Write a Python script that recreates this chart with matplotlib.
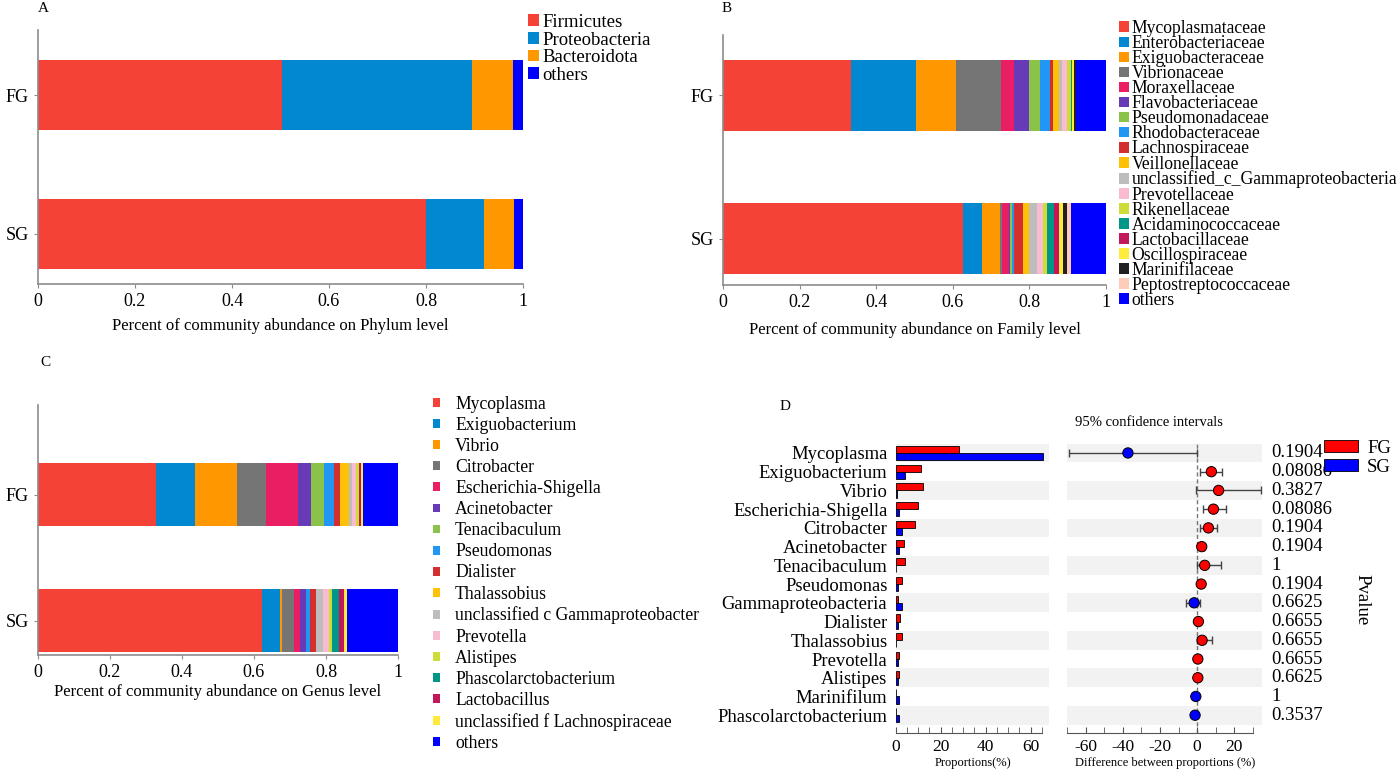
import numpy as np
import matplotlib
matplotlib.use("Agg")
import matplotlib.pyplot as plt
from matplotlib.patches import Patch

plt.rcParams['font.family'] = ['Liberation Serif', 'DejaVu Serif']
plt.rcParams['axes.unicode_minus'] = False

W, H = 1400, 773

# ---- panel A: phylum level ----
phylum = ["Firmicutes", "Proteobacteria", "Bacteroidota", "others"]
phylum_fg = [0.503, 0.392, 0.084, 0.021]
phylum_sg = [0.800, 0.120, 0.061, 0.019]
phylum_colors = ["#F44336", "#0288D1", "#FF9800", "#0000FF"]

# ---- panel B: family level ----
family = ["Mycoplasmataceae", "Enterobacteriaceae", "Exiguobacteraceae", "Vibrionaceae",
          "Moraxellaceae", "Flavobacteriaceae", "Pseudomonadaceae", "Rhodobacteraceae",
          "Lachnospiraceae", "Veillonellaceae", "unclassified_c_Gammaproteobacteria",
          "Prevotellaceae", "Rikenellaceae", "Acidaminococcaceae", "Lactobacillaceae",
          "Oscillospiraceae", "Marinifilaceae", "Peptostreptococcaceae", "others"]
family_fg = [0.333, 0.170, 0.106, 0.117, 0.035, 0.039, 0.027, 0.027, 0.008, 0.016,
             0.008, 0.012, 0.010, 0.002, 0.002, 0.004, 0.005, 0.001, 0.078]
family_sg = [0.626, 0.050, 0.047, 0.005, 0.018, 0.003, 0.006, 0.004, 0.025, 0.016,
             0.020, 0.015, 0.011, 0.017, 0.013, 0.011, 0.010, 0.012, 0.091]
family_colors = ["#F44336", "#0288D1", "#FF9800", "#757575", "#E91E63", "#673AB7",
                 "#8BC34A", "#2196F3", "#D32F2F", "#FFC107", "#BDBDBD", "#F8BBD0",
                 "#CDDC39", "#009688", "#C2185B", "#FFEB3B", "#212121", "#FFCCBC", "#0000FF"]

# ---- panel C: genus level ----
genus = ["Mycoplasma", "Exiguobacterium", "Vibrio", "Citrobacter", "Escherichia-Shigella",
         "Acinetobacter", "Tenacibaculum", "Pseudomonas", "Dialister", "Thalassobius",
         "unclassified c Gammaproteobacter", "Prevotella", "Alistipes",
         "Phascolarctobacterium", "Lactobacillus", "unclassified f Lachnospiraceae", "others"]
genus_fg = [0.328, 0.107, 0.118, 0.080, 0.090, 0.034, 0.038, 0.026, 0.017, 0.026,
            0.007, 0.011, 0.009, 0.001, 0.005, 0.005, 0.098]
genus_sg = [0.623, 0.048, 0.007, 0.034, 0.015, 0.017, 0.001, 0.010, 0.016, 0.001,
            0.020, 0.015, 0.011, 0.018, 0.013, 0.009, 0.142]
genus_colors = ["#F44336", "#0288D1", "#FF9800", "#757575", "#E91E63", "#673AB7",
                "#8BC34A", "#2196F3", "#D32F2F", "#FFC107", "#BDBDBD", "#F8BBD0",
                "#CDDC39", "#009688", "#C2185B", "#FFEB3B", "#0000FF"]

# ---- panel D: differential genera ----
d_genus = ["Mycoplasma", "Exiguobacterium", "Vibrio", "Escherichia-Shigella", "Citrobacter",
           "Acinetobacter", "Tenacibaculum", "Pseudomonas", "Gammaproteobacteria", "Dialister",
           "Thalassobius", "Prevotella", "Alistipes", "Marinifilum", "Phascolarctobacterium"]
d_fg = [28.1, 11.1, 12.0, 9.9, 8.4, 3.6, 4.0, 2.8, 0.9, 1.8, 2.7, 1.3, 1.3, 0.1, 0.1]
d_sg = [65.5, 4.0, 0.7, 1.5, 2.7, 1.5, 0.1, 0.9, 2.7, 1.2, 0.1, 1.2, 1.2, 1.3, 1.6]
d_diff = [-37.3, 7.7, 11.6, 8.8, 6.1, 2.5, 4.1, 2.2, -1.6, 0.7, 2.7, 0.4, 0.4, -0.7, -1.1]
d_ci_low = [-69.0, 1.6, -0.5, 3.4, 1.6, 1.5, 0.2, 1.2, -5.9, -0.4, -0.2, -0.2, -0.3, -1.4, -1.8]
d_ci_high = [0.0, 13.4, 34.6, 15.6, 10.9, 3.5, 12.7, 3.2, 1.3, 1.8, 7.9, 1.0, 1.1, 0.0, -0.4]
d_pvalue = ["0.1904", "0.08086", "0.3827", "0.08086", "0.1904", "0.1904", "1", "0.1904",
            "0.6625", "0.6655", "0.6655", "0.6655", "0.6625", "1", "0.3537"]
groups = ["FG", "SG"]
group_colors = ["#FF0000", "#0000FF"]


def rect(l, t, r, b):
    # pixel box -> figure fraction
    return [l / W, 1 - b / H, (r - l) / W, (b - t) / H]


def stacked(ax, names, fg, sg, colors, ylim, xlabel):
    left = np.zeros(2)
    for name, a, b, c in zip(names, fg, sg, colors):
        vals = np.array([b, a])
        ax.barh([0, 1], vals, left=left, height=0.5, color=c, label=name, linewidth=0)
        left += vals
    ax.set_xlim(0, 1)
    ax.set_ylim(*ylim)
    ax.set_yticks([0, 1], ["SG", "FG"], fontsize=13)
    ax.set_xticks([0, 0.2, 0.4, 0.6, 0.8, 1], ["0", "0.2", "0.4", "0.6", "0.8", "1"], fontsize=13)
    for s in ["top", "right"]:
        ax.spines[s].set_visible(False)
    for s in ["left", "bottom"]:
        ax.spines[s].set_color("#8c8c8c")
        ax.spines[s].set_linewidth(1.2)
    ax.tick_params(colors="#8c8c8c", labelcolor="black", length=3)
    ax.set_xlabel(xlabel, fontsize=12, labelpad=8)


fig = plt.figure(figsize=(14, 7.73), dpi=100)

# A
axA = fig.add_axes(rect(38, 30, 523, 284))
stacked(axA, phylum, phylum_fg, phylum_sg, phylum_colors, (-0.36, 1.468),
        "Percent of community abundance on Phylum level")
axA.xaxis.labelpad = 6
axA.legend(loc="upper left", bbox_to_anchor=(528 / W, 1 - 14 / H), bbox_transform=fig.transFigure,
           frameon=False, fontsize=13.5, handlelength=0.6, handleheight=0.6, handletextpad=0.15,
           labelspacing=0.03, borderpad=0, borderaxespad=0)
fig.text(38 / W, 1 - 8 / H, "A", fontsize=11, va="center")

# B
axB = fig.add_axes(rect(723, 35, 1106, 285))
stacked(axB, family, family_fg, family_sg, family_colors, (-0.325, 1.423),
        "Percent of community abundance on Family level")
axB.legend(loc="upper left", bbox_to_anchor=(1119 / W, 1 - 20 / H), bbox_transform=fig.transFigure,
           frameon=False, fontsize=12.7, handlelength=0.55, handleheight=0.55, handletextpad=0.15,
           labelspacing=-0.11, borderpad=0, borderaxespad=0)
fig.text(722 / W, 1 - 8 / H, "B", fontsize=11, va="center")

# C
axC = fig.add_axes(rect(38, 405, 398, 655))
stacked(axC, genus, genus_fg, genus_sg, genus_colors, (-0.27, 1.714),
        "Percent of community abundance on Genus level")
axC.xaxis.labelpad = 2
axC.legend(loc="upper left", bbox_to_anchor=(433 / W, 1 - 396 / H), bbox_transform=fig.transFigure,
           frameon=False, fontsize=12.7, handlelength=0.4, handleheight=0.4, handletextpad=0.85,
           labelspacing=0.23, borderpad=0, borderaxespad=0)
fig.text(40 / W, 1 - 362 / H, "C", fontsize=11, va="center")

# D - proportions
y = np.arange(len(d_genus))
axL = fig.add_axes(rect(895.7, 443.6, 1049.3, 733))
axR = fig.add_axes(rect(1067.3, 443.6, 1262, 733))
for ax in (axL, axR):
    for i in range(0, len(d_genus), 2):
        ax.axhspan(i - 0.5, i + 0.5, color="#F2F2F2", lw=0, zorder=0)
    ax.set_ylim(14.95, -0.5)
    for s in ["top", "right", "left"]:
        ax.spines[s].set_visible(False)
    ax.spines["bottom"].set_color("#555555")
    ax.tick_params(axis="x", which="both", direction="in", length=4, colors="#555555",
                   labelcolor="black", labelsize=12.5, pad=4)
    ax.tick_params(axis="y", length=0)

axL.barh(y - 0.19, d_fg, height=0.38, color=group_colors[0], edgecolor="black", lw=0.6, zorder=2)
axL.barh(y + 0.19, d_sg, height=0.38, color=group_colors[1], edgecolor="black", lw=0.6, zorder=2)
axL.set_xlim(0, 68.3)
axL.spines["bottom"].set_bounds(0, 65)
axL.set_xticks([0, 20, 40, 60])
axL.set_xticks(np.arange(0, 66, 5), minor=True)
axL.set_yticks(y, d_genus, fontsize=13.4)
axL.tick_params(axis="y", pad=6)
axL.set_xlabel("Proportions(%)", fontsize=9, labelpad=2)

# D - differences with CI
axR.axvline(0, color="#777777", ls=(0, (3, 2)), lw=1, zorder=1)
pt_colors = [group_colors[0] if d > 0 else group_colors[1] for d in d_diff]
xerr = [np.array(d_diff) - np.array(d_ci_low), np.array(d_ci_high) - np.array(d_diff)]
axR.errorbar(d_diff, y, xerr=xerr, fmt="none", ecolor="#444444", elinewidth=1, capsize=3,
             capthick=1, zorder=2)
axR.scatter(d_diff, y, s=55, c=pt_colors, edgecolors="black", linewidths=0.7, zorder=3)
axR.set_xlim(-70, 35)
axR.spines["bottom"].set_bounds(-70, 30)
axR.set_xticks([-60, -40, -20, 0, 20])
axR.set_xticks(np.arange(-70, 31, 10), minor=True)
axR.set_yticks([])
axR.set_xlabel("Difference between proportions (%)", fontsize=9, labelpad=2)
for i, p in zip(y, d_pvalue):
    axR.text(1.05, i, p, transform=axR.get_yaxis_transform(), fontsize=13.5, va="center")
fig.text(1075 / W, 1 - 423 / H, "95% confidence intervals", fontsize=10.5, va="center")

fig.text(1362 / W, 1 - 600 / H, "Pvalue", fontsize=13.5, rotation=270, ha="center", va="center")
fig.legend([Patch(facecolor=c, edgecolor="black", lw=0.6) for c in group_colors], groups,
           loc="upper left", bbox_to_anchor=(1324 / W, 1 - 440 / H), frameon=False, fontsize=13.5,
           handlelength=1.8, handleheight=0.6, handletextpad=0.5, labelspacing=0.1,
           borderpad=0, borderaxespad=0)
fig.text(780 / W, 1 - 407 / H, "D", fontsize=11, va="center")

fig.savefig("out.png", dpi=100)
